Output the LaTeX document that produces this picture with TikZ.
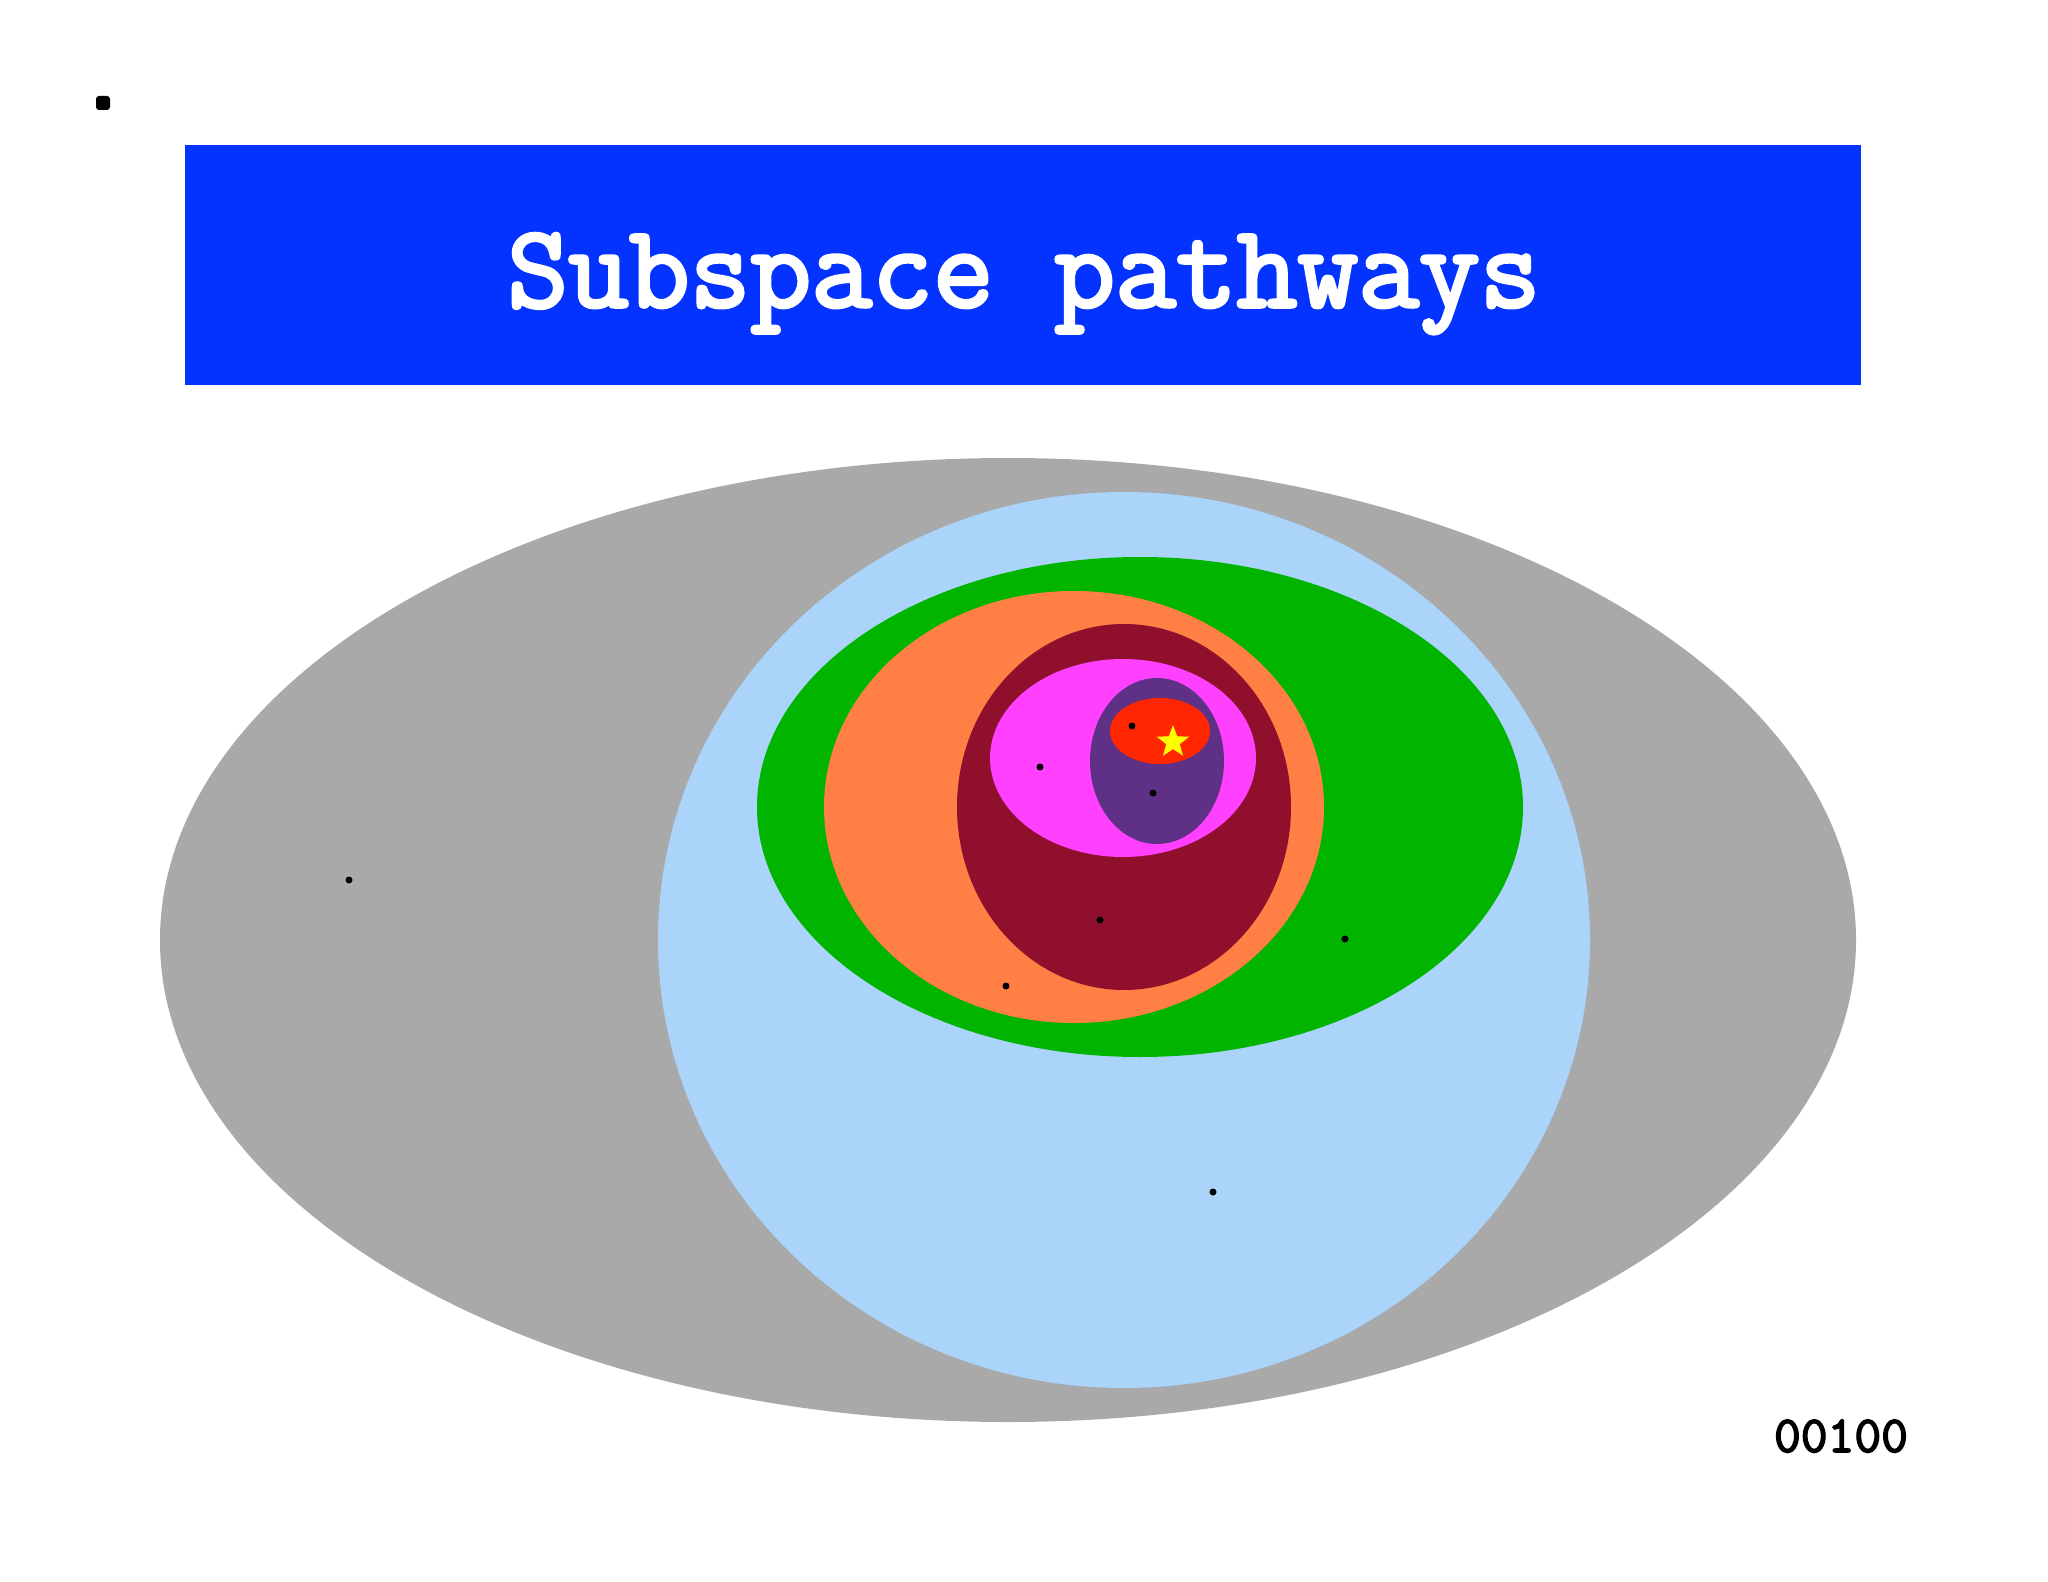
\documentclass[tikz,border=0pt]{standalone}
\usepackage{fontspec}
\newfontfamily\heavymono{Latin Modern Mono}[FakeBold=3]
\usetikzlibrary{shapes.geometric}
\definecolor{cgray}{HTML}{A9A9A9}
\definecolor{csky}{HTML}{AAD4FA}
\definecolor{cgreen}{HTML}{00B400}
\definecolor{corange}{HTML}{FF7F45}
\definecolor{cwine}{HTML}{8F0F2D}
\definecolor{cpink}{HTML}{FF40FF}
\definecolor{cviolet}{HTML}{5E3186}
\definecolor{cred}{HTML}{FF2600}
\definecolor{cstar}{HTML}{FFFF00}
\definecolor{cbanner}{HTML}{0433FF}
\begin{document}
\begin{tikzpicture}[x=0.5pt,y=-0.5pt]
    \tikzset{
    blob/.style={ellipse,inner sep=0,draw=none},
    pt/.style={circle,fill=black,inner sep=0,minimum size=3.5pt},
    }
    \useasboundingbox (0,0) rectangle (2048,1582);
    \node[fill=black,rounded corners=1.5pt,inner sep=0,minimum size=7pt] (mark) at (103,103) {};
    \node[fill=cbanner,inner sep=0,minimum width=838pt,minimum height=120pt] (banner) at (1023,265) {};
    \node[anchor=base,text=white,font=\heavymono\fontsize{59}{59}\selectfont] (title) at (1024,307) {Subspace pathways};

    \node[blob,fill=cgray,minimum width=848pt,minimum height=482pt] (e1) at (1008,940) {};
    \node[blob,fill=csky,minimum width=466pt,minimum height=448pt] (e2) at (1124,940) {};
    \node[blob,fill=cgreen,minimum width=383pt,minimum height=250pt] (e3) at (1140,807) {};
    \node[blob,fill=corange,minimum width=250pt,minimum height=216pt] (e4) at (1074,807) {};
    \node[blob,fill=cwine,minimum width=167pt,minimum height=183pt] (e5) at (1124,807) {};
    \node[blob,fill=cpink,minimum width=133pt,minimum height=99pt] (e6) at (1123,758) {};
    \node[blob,fill=cviolet,minimum width=67pt,minimum height=83pt] (e7) at (1157,761) {};
    \node[blob,fill=cred,minimum width=50pt,minimum height=33pt] (e8) at (1160,731) {};
    \node[star,star points=5,star point ratio=2.4,fill=cstar,inner sep=0,minimum size=17pt] (goal) at (1173,742) {};

    \node[pt] (p1) at (349,880) {};
    \node[pt] (p2) at (1213,1192) {};
    \node[pt] (p3) at (1345,939) {};
    \node[pt] (p4) at (1006,986) {};
    \node[pt] (p5) at (1100,920) {};
    \node[pt] (p6) at (1040,767) {};
    \node[pt] (p7) at (1153,793) {};
    \node[pt] (p8) at (1132,726) {};

    \node[anchor=base,font=\heavymono\fontsize{26}{26}\selectfont] (code) at (1841,1452) {00100};
\end{tikzpicture}
\end{document}
